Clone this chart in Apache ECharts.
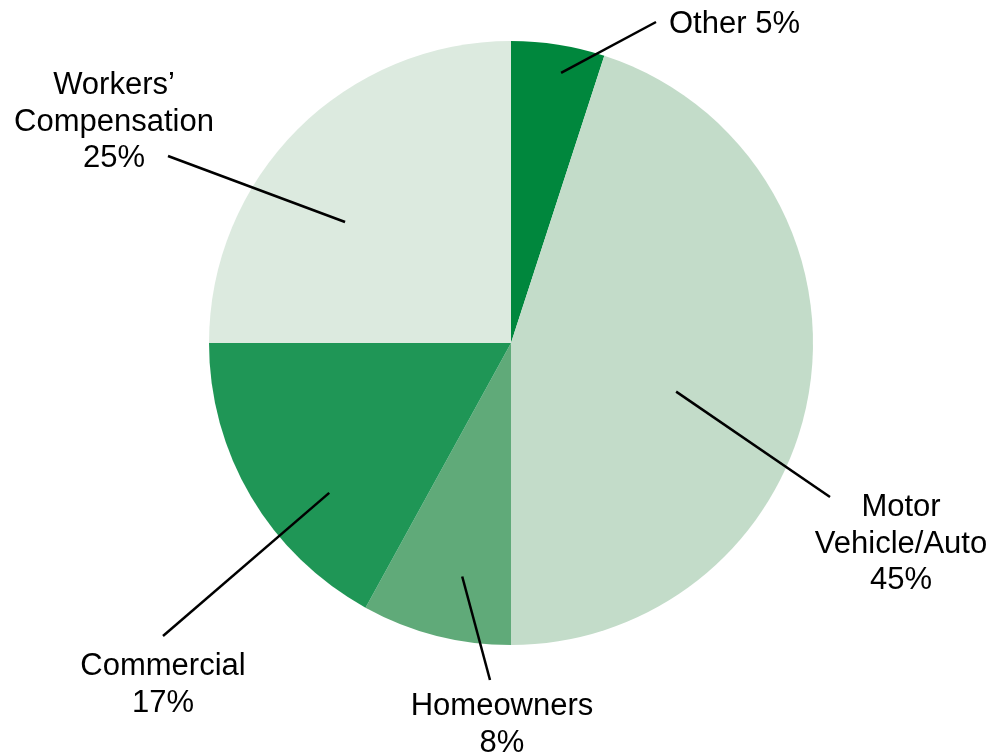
<!DOCTYPE html>
<html>
<head>
<meta charset="utf-8">
<script src="https://cdn.jsdelivr.net/npm/echarts@6/dist/echarts.min.js"></script>
<style>
  html, body { margin: 0; padding: 0; background: #fff; }
  #chart { width: 997px; height: 756px; }
</style>
</head>
<body>
<div id="chart"></div>
<script>
  const CATEGORIES = ["Other", "Motor\nVehicle/Auto", "Homeowners", "Commercial", "Workers’\nCompensation"];
  const SHARES = [5, 45, 8, 17, 25];
  const COLORS = ["#00873d", "#c3dcc9", "#60aa79", "#1f9656", "#dceadf"];

  const CENTER = [511, 343];
  const RADIUS = 302;

  // leader line start (angle clockwise from top, fraction of radius), end point, label anchor
  const LEADERS = [
    { angle: 10.5, r: 0.91, end: [656, 22], label: [669, 24], align: "left" },
    { angle: 106.4, r: 0.57, end: [830, 497], label: [901, 544], align: "center" },
    { angle: 191.8, r: 0.79, end: [490, 680], label: [502, 725], align: "center" },
    { angle: 230.5, r: 0.78, end: [163, 636], label: [163, 685], align: "center" },
    { angle: 306.1, r: 0.68, end: [168, 156], label: [114, 122], align: "center" },
  ];

  const slices = CATEGORIES.map((name, i) => ({
    name,
    value: SHARES[i],
    itemStyle: { color: COLORS[i] },
  }));

  const base = {
    type: "pie",
    center: CENTER,
    radius: RADIUS,
    startAngle: 90,
    clockwise: true,
    avoidLabelOverlap: false,
    silent: true,
    emphasis: { disabled: true },
  };

  const chart = echarts.init(document.getElementById("chart"), null, { renderer: "canvas" });

  chart.setOption({
    animation: false,
    backgroundColor: "#fff",
    series: [
      {
        ...base,
        z: 1,
        data: slices,
        label: { show: false },
        labelLine: { show: false },
      },
      {
        // transparent copy on top, carries labels and leader lines over the sectors
        ...base,
        z: 5,
        data: slices.map((d) => ({ ...d, itemStyle: { color: "rgba(0,0,0,0)" } })),
        label: {
          show: true,
          position: "outside",
          formatter: (p) => `${p.name}${p.dataIndex === 0 ? " " : "\n"}${p.value}%`,
          color: "#000",
          fontFamily: "Liberation Sans",
          fontSize: 31,
          lineHeight: 36.5,
        },
        labelLine: {
          show: true,
          lineStyle: { color: "#000", width: 2.5 },
        },
        labelLayout(params) {
          const l = LEADERS[params.dataIndex];
          const a = (l.angle * Math.PI) / 180;
          const start = [
            CENTER[0] + Math.sin(a) * RADIUS * l.r,
            CENTER[1] - Math.cos(a) * RADIUS * l.r,
          ];
          return {
            x: l.label[0],
            y: l.label[1],
            align: l.align,
            verticalAlign: "middle",
            labelLinePoints: [start, l.end],
          };
        },
      },
    ],
  });
</script>
</body>
</html>
